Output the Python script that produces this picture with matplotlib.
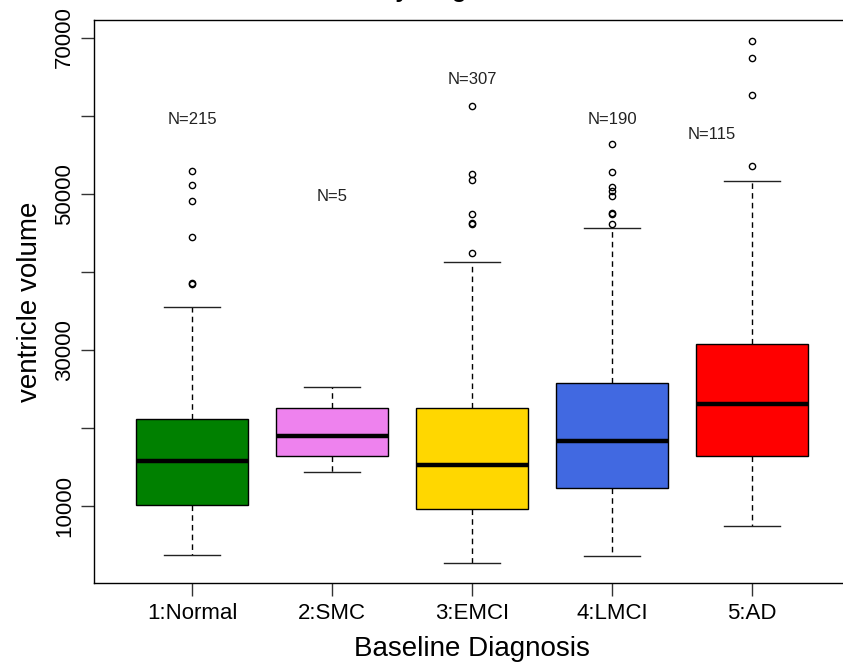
import matplotlib
matplotlib.use("Agg")
import matplotlib.pyplot as plt

plt.rcParams["font.family"] = ["Liberation Sans", "DejaVu Sans"]

# Datos
grupos = ["1:Normal", "2:SMC", "3:EMCI", "4:LMCI", "5:AD"]
n_casos = [215, 5, 307, 190, 115]
colores = ["#008000", "#EE82EE", "#FFD700", "#4169E1", "#FF0000"]

q1 = [10170, 16440, 9620, 12380, 16440]
mediana = [15800, 19000, 15250, 18360, 23060]
q3 = [21170, 22540, 22540, 25740, 30770]
bigote_inf = [3800, 14430, 2780, 3640, 7520]
bigote_sup = [35550, 25310, 41230, 45580, 51600]
atipicos = [
    [52960, 51090, 49120, 44510, 38600, 38420],
    [],
    [61280, 52500, 51770, 47380, 46300, 46150, 42380],
    [56370, 52830, 50830, 50400, 49720, 47600, 47400, 46130],
    [69600, 67330, 62700, 53600],
]

# posicion de las etiquetas N=
etiq_x = [1, 2, 3, 4, 4.71]
etiq_y = [59540, 49600, 64570, 59570, 57570]

stats = []
for i in range(len(grupos)):
    stats.append({
        "label": grupos[i],
        "q1": q1[i], "med": mediana[i], "q3": q3[i],
        "whislo": bigote_inf[i], "whishi": bigote_sup[i],
        "fliers": atipicos[i],
    })

fig = plt.figure(figsize=(8.43, 6.65), dpi=100)
ax = fig.add_axes([94 / 843, 82 / 665, 756 / 843, 563 / 665])

bp = ax.bxp(
    stats,
    positions=range(1, len(grupos) + 1),
    widths=0.8,
    patch_artist=True,
    boxprops=dict(edgecolor="black", linewidth=1.0),
    medianprops=dict(color="black", linewidth=3.2, solid_capstyle="butt"),
    whiskerprops=dict(color="black", linewidth=1.0, linestyle=(0, (4, 3))),
    capprops=dict(color="#222222", linewidth=1.0),
    capwidths=0.4,
    flierprops=dict(marker="o", markerfacecolor="none", markeredgecolor="black",
                    markersize=4.5, markeredgewidth=1.0),
)
for caja, c in zip(bp["boxes"], colores):
    caja.set_facecolor(c)

for x, y, n in zip(etiq_x, etiq_y, n_casos):
    ax.text(x, y, f"N={n}", ha="center", va="center", fontsize=12, color="#222222")

ax.set_xlim(0.3, 5.7)
ax.set_ylim(182, 72246)

ax.set_yticks([10000, 20000, 30000, 40000, 50000, 60000, 70000])
ax.set_yticklabels(["10000", "", "30000", "", "50000", "", "70000"],
                   rotation=90, va="center", fontsize=16)
ax.set_xticks(range(1, len(grupos) + 1))
ax.set_xticklabels(grupos, fontsize=16)
ax.tick_params(axis="both", direction="out", length=9.5, width=1.0, color="#333333")
ax.tick_params(axis="x", pad=5)
ax.tick_params(axis="y", pad=4)

for s in ax.spines.values():
    s.set_linewidth(1.0)
    s.set_color("black")

ax.set_xlabel("Baseline Diagnosis", fontsize=20)
ax.set_ylabel("ventricle volume", fontsize=20)
ax.xaxis.set_label_coords(0.5, -0.095)
ax.yaxis.set_label_coords(-0.068, 0.5)

# titulo casi fuera de la imagen, solo se ven los trazos inferiores
fig.text(357 / 843, 1.005, "Ventricle Volume by Diagnosis", ha="center", va="baseline",
         fontsize=17, fontweight="bold")

fig.savefig("out.png", dpi=100)
